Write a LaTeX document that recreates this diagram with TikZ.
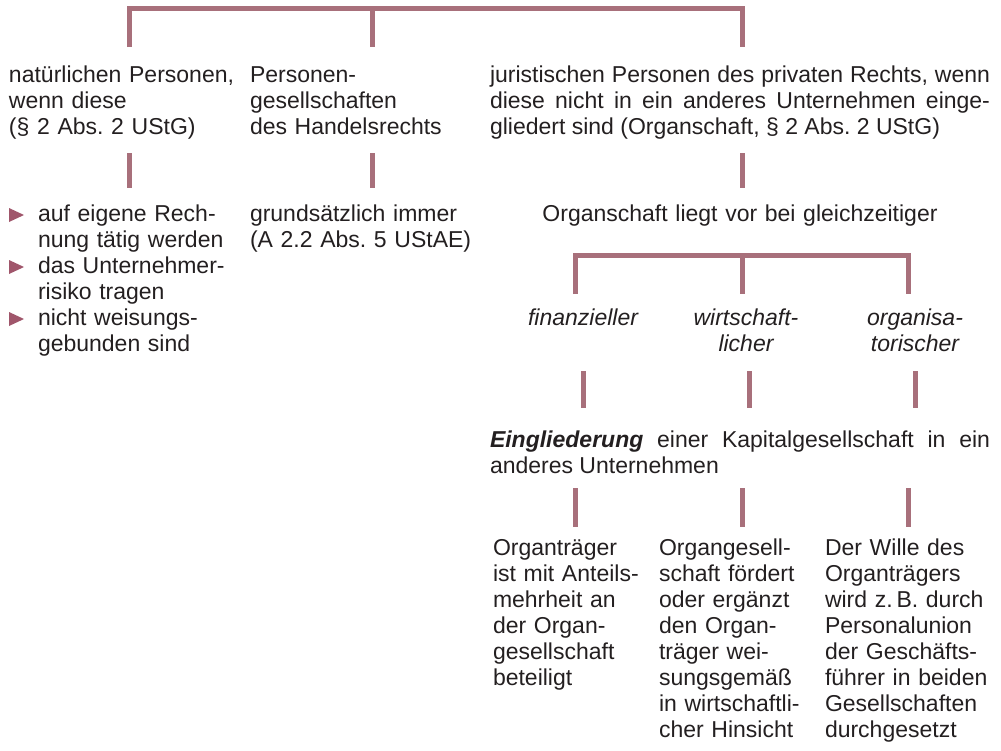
\documentclass[tikz,border=0pt]{standalone}
\usepackage{fontspec}
\setmainfont{Liberation Sans}
\frenchspacing
\definecolor{lineC}{RGB}{168,112,123}
\definecolor{bulC}{RGB}{160,86,107}
\definecolor{txtC}{RGB}{35,31,32}
\begin{document}
\frenchspacing
\begin{tikzpicture}[x=1pt,y=-1pt,
  txt/.style={inner sep=0pt, outer sep=0pt, text=txtC, font=\fontsize{23}{26}\selectfont\frenchspacing, anchor=base west, align=left},
  ctxt/.style={txt, anchor=base, align=center},
  itxt/.style={ctxt, font=\fontsize{23}{26}\selectfont\itshape},
  conn/.style={draw=lineC, line width=5pt},
  bul/.style={fill=bulC}]
\useasboundingbox (0,0) rectangle (1001,750);

% level 1 texts
\node[txt, text width=238] (np) at (9,82) {natürlichen Personen,\\ wenn diese\\ (§ 2 Abs. 2 UStG)};
\node[txt, text width=230] (pg) at (250,82) {Personen-\\ gesellschaften\\ des Handelsrechts};
\node[txt, text width=500, align=justify] (jp) at (490,82) {\hyphenpenalty=10000 juristischen Personen des privaten Rechts, wenn\linebreak diese nicht in ein anderes Unternehmen einge-\linebreak gliedert sind (Organschaft, § 2 Abs. 2 UStG)};

% level 2 texts
\node[txt, text width=215] (bl) at (38,221) {auf eigene Rech-\\ nung tätig werden\\ das Unternehmer-\\ risiko tragen\\ nicht weisungs-\\ gebunden sind};
\fill[bul] (9,208) -- (24,215) -- (9,222) -- cycle;
\fill[bul] (9,260) -- (24,267) -- (9,274) -- cycle;
\fill[bul] (9,312) -- (24,319) -- (9,326) -- cycle;
\node[txt, text width=230] (gi) at (250,221) {grundsätzlich immer\\ (A 2.2 Abs. 5 UStAE)};
\node[ctxt, text width=480] (og) at (740,221) {Organschaft liegt vor bei gleichzeitiger};

% level 3
\node[itxt, text width=150] (fi) at (583,325) {finanzieller};
\node[itxt, text width=150] (wi) at (746,325) {wirtschaft-\\ licher};
\node[itxt, text width=150] (or) at (915,325) {organisa-\\ torischer};

% level 4
\node[txt, text width=500, align=justify] (ei) at (490,447) {\textbf{\textit{Eingliederung}} einer Kapitalgesellschaft in ein\linebreak anderes Unternehmen};

% level 5
\node[txt, text width=165] (b1) at (493,555) {Organträger\\ ist mit Anteils-\\ mehrheit an\\ der Organ-\\ gesellschaft\\ beteiligt};
\node[txt, text width=165] (b2) at (659,555) {Organgesell-\\ schaft fördert\\ oder ergänzt\\ den Organ-\\ träger wei-\\ sungsgemäß\\ in wirtschaftli-\\ cher Hinsicht};
\node[txt, text width=170] (b3) at (825,555) {Der Wille des\\ Organträgers\\ wird z.\,B. durch\\ Personalunion\\ der Geschäfts-\\ führer in beiden\\ Gesellschaften\\ durchgesetzt};

% top bracket
\coordinate (tL) at (129.5,8);
\coordinate (tM) at (372,8);
\coordinate (tR) at (742.5,8);
\coordinate (tLd) at (129.5,47);
\coordinate (tMd) at (372,47);
\coordinate (tRd) at (742.5,47);
\draw[conn] (tLd) -- (tL) -- (tR) -- (tRd);
\draw[conn] (tM) -- (tMd);

% stubs below level 1
\coordinate (s1a) at (129.5,153); \coordinate (s1b) at (129.5,188);
\coordinate (s2a) at (372,153);   \coordinate (s2b) at (372,188);
\coordinate (s3a) at (742,153);   \coordinate (s3b) at (742,188);
\draw[conn] (s1a) -- (s1b);
\draw[conn] (s2a) -- (s2b);
\draw[conn] (s3a) -- (s3b);

% second bracket
\coordinate (uL) at (575.5,255);
\coordinate (uM) at (742,255);
\coordinate (uR) at (908.5,255);
\coordinate (uLd) at (575.5,294);
\coordinate (uMd) at (742,294);
\coordinate (uRd) at (908.5,294);
\draw[conn] (uLd) -- (uL) -- (uR) -- (uRd);
\draw[conn] (uM) -- (uMd);

% stubs below level 3
\coordinate (v1a) at (583,371);   \coordinate (v1b) at (583,408);
\coordinate (v2a) at (749.5,371); \coordinate (v2b) at (749.5,408);
\coordinate (v3a) at (915.5,371); \coordinate (v3b) at (915.5,408);
\draw[conn] (v1a) -- (v1b);
\draw[conn] (v2a) -- (v2b);
\draw[conn] (v3a) -- (v3b);

% stubs below level 4
\coordinate (w1a) at (575.5,488); \coordinate (w1b) at (575.5,527);
\coordinate (w2a) at (742,488);   \coordinate (w2b) at (742,527);
\coordinate (w3a) at (908.5,488); \coordinate (w3b) at (908.5,527);
\draw[conn] (w1a) -- (w1b);
\draw[conn] (w2a) -- (w2b);
\draw[conn] (w3a) -- (w3b);
\end{tikzpicture}
\end{document}
